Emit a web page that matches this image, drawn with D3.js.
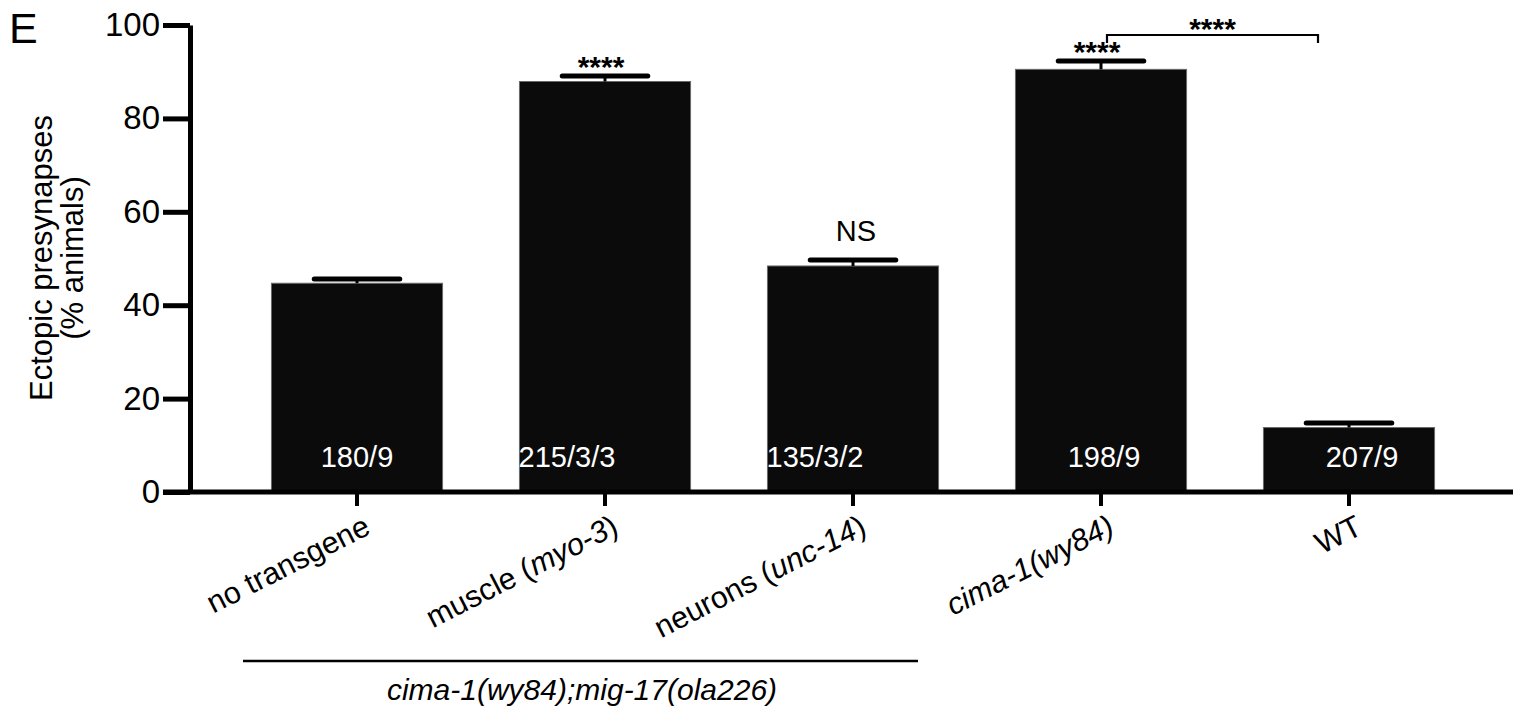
<!DOCTYPE html>
<html>
<head>
<meta charset="utf-8">
<script src="https://cdn.jsdelivr.net/npm/d3@7"></script>
<style>
  body { margin: 0; background: #fff; }
  text { font-family: "Liberation Sans", Arial, sans-serif; }
</style>
</head>
<body>
<div id="chart"></div>
<script>
// Chart data.
const categories = ["no transgene", "muscle (myo-3)", "neurons (unc-14)", "cima-1(wy84)", "WT"];
// label pieces: [text, italic?]
const tickParts = [
  [["no transgene", false]],
  [["muscle (", false], ["myo-3", true], [")", false]],
  [["neurons (", false], ["unc-14", true], [")", false]],
  [["cima-1(wy84)", true]],
  [["WT", false]]
];
const values = [44.7, 87.9, 48.4, 90.5, 13.8];
const errors = [0.9, 1.2, 1.3, 1.8, 1.0];
const counts = ["180/9", "215/3/3", "135/3/2", "198/9", "207/9"];
const signif = ["", "****", "NS", "****", ""];
const yTicks = [0, 20, 40, 60, 80, 100];
const groupLabel = "cima-1(wy84);mig-17(ola226)";

const W = 1513, H = 715;
const svg = d3.select("#chart").append("svg")
  .attr("width", W)
  .attr("height", H);

const x = d3.scaleBand()
  .domain(categories)
  .range([233, 1473])
  .paddingInner(0.31)
  .paddingOuter(0.155);
const y = d3.scaleLinear()
  .domain([0, 100])
  .range([492, 25]);

const xc = d => x(d) + x.bandwidth() / 2;

// Bars
const rows = categories.map((c, i) => ({c: c, v: values[i], e: errors[i], n: counts[i], s: signif[i], i: i}));

svg.append("g").selectAll("rect")
  .data(rows).enter()
  .append("rect")
  .attr("x", d => x(d.c))
  .attr("y", d => y(d.v))
  .attr("width", x.bandwidth())
  .attr("height", d => y(0) - y(d.v))
  .attr("fill", "#0b0b0b")
  .attr("stroke", "#6a6a6a")
  .attr("stroke-width", 1);

// Error bars (upper half only shows)
const eb = svg.append("g");
eb.selectAll("line.stem")
  .data(rows).enter()
  .append("line")
  .attr("x1", d => xc(d.c)).attr("x2", d => xc(d.c))
  .attr("y1", d => y(d.v)).attr("y2", d => y(d.v + d.e))
  .attr("stroke", "#000").attr("stroke-width", 3);
eb.selectAll("line.cap")
  .data(rows).enter()
  .append("line")
  .attr("x1", d => xc(d.c) - x.bandwidth() * 0.25)
  .attr("x2", d => xc(d.c) + x.bandwidth() * 0.25)
  .attr("y1", d => y(d.v + d.e)).attr("y2", d => y(d.v + d.e))
  .attr("stroke", "#000").attr("stroke-width", 5)
  .attr("stroke-linecap", "round");

// n labels inside bars
const countShift = [0, -38, -38, 3, 13];
svg.append("g").selectAll("text")
  .data(rows).enter()
  .append("text")
  .attr("x", d => xc(d.c) + countShift[d.i])
  .attr("y", 467)
  .attr("text-anchor", "middle")
  .attr("fill", "#fff")
  .attr("font-size", 29)
  .text(d => d.n);

// Significance marks above bars
svg.append("g").selectAll("text")
  .data(rows.filter(d => d.s !== "")).enter()
  .append("text")
  .attr("x", d => xc(d.c) - (d.s === "NS" ? -3 : 4))
  .attr("y", d => y(d.v + d.e) + (d.s === "NS" ? -19 : 1))
  .attr("text-anchor", "middle")
  .attr("font-size", d => d.s === "NS" ? 29 : 30)
  .attr("font-weight", d => d.s === "NS" ? "normal" : "bold")
  .text(d => d.s);

// Bracket cima-1 vs WT
const bx1 = xc(categories[3]) + 6, bx2 = xc(categories[4]) - 31;
svg.append("path")
  .attr("d", `M${bx1},${y(90.5 + 1.8) - 18}V35H${bx2}V43`)
  .attr("fill", "none")
  .attr("stroke", "#000")
  .attr("stroke-width", 2.2);
svg.append("text")
  .attr("x", (bx1 + bx2) / 2)
  .attr("y", 39)
  .attr("text-anchor", "middle")
  .attr("font-size", 30)
  .attr("font-weight", "bold")
  .text("****");

// Y axis
const yAxis = svg.append("g")
  .attr("transform", "translate(190,0)")
  .call(d3.axisLeft(y).tickValues(yTicks).tickSize(27).tickSizeOuter(0).tickPadding(3));
yAxis.select(".domain").attr("stroke-width", 5).attr("stroke", "#000");
yAxis.selectAll(".tick line").attr("stroke-width", 5).attr("stroke", "#000");
yAxis.selectAll(".tick text")
  .attr("font-size", 33)
  .attr("fill", "#000")
  .attr("font-family", "Liberation Sans, Arial, sans-serif");

// X axis
const xAxis = svg.append("g")
  .attr("transform", "translate(0,492)")
  .call(d3.axisBottom(x).tickSize(14).tickSizeOuter(0).tickFormat(""));
xAxis.select(".domain").remove();
xAxis.selectAll(".tick line").attr("stroke-width", 4).attr("stroke", "#000");
svg.append("line")
  .attr("x1", 163).attr("x2", W)
  .attr("y1", 492).attr("y2", 492)
  .attr("stroke", "#000").attr("stroke-width", 5);

// Rotated category labels
const lab = svg.append("g").selectAll("text")
  .data(rows).enter()
  .append("text")
  .attr("transform", d => `translate(${xc(d.c) + 15},533) rotate(-27)`)
  .attr("text-anchor", "end")
  .attr("font-size", 30.5);
lab.each(function(d) {
  const t = d3.select(this);
  tickParts[d.i].forEach(p => {
    t.append("tspan")
      .attr("font-style", p[1] ? "italic" : "normal")
      .text(p[0]);
  });
});

// Group line and label
svg.append("line")
  .attr("x1", 243).attr("x2", 918)
  .attr("y1", 661).attr("y2", 661)
  .attr("stroke", "#000").attr("stroke-width", 2.5);
svg.append("text")
  .attr("x", 582).attr("y", 700)
  .attr("text-anchor", "middle")
  .attr("font-size", 30)
  .attr("font-style", "italic")
  .text(groupLabel);

// Y axis title
const yt = svg.append("text")
  .attr("transform", "translate(0,258) rotate(-90)")
  .attr("text-anchor", "middle")
  .attr("font-size", 31);
yt.append("tspan").attr("x", 0).attr("y", 52).text("Ectopic presynapses");
yt.append("tspan").attr("x", 0).attr("y", 83).text("(% animals)");

// Panel letter
svg.append("text")
  .attr("x", 9).attr("y", 43)
  .attr("font-size", 43)
  .text("E");
</script>
</body>
</html>
